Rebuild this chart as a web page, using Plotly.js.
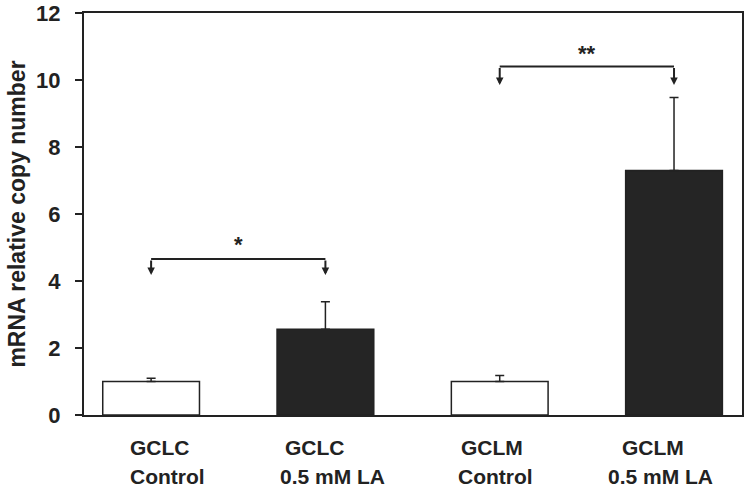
<!DOCTYPE html>
<html>
<head>
<meta charset="utf-8">
<script src="https://cdn.plot.ly/plotly-3.0.1.min.js"></script>
<style>html,body{margin:0;padding:0;background:#fff;}#chart{width:750px;height:494px;}</style>
</head>
<body>
<div id="chart"></div>
<script>
// Data
const categories = ['GCLC Control', 'GCLC 0.5 mM LA', 'GCLM Control', 'GCLM 0.5 mM LA'];
const labelTop = ['GCLC', 'GCLC', 'GCLM', 'GCLM'];
const labelBottom = ['Control', '0.5 mM LA', 'Control', '0.5 mM LA'];
const values = [1.0, 2.56, 1.0, 7.3];
const errorsUp = [0.10, 0.82, 0.18, 2.18];
const barColors = ['#ffffff', '#252525', '#ffffff', '#252525'];
const yTicks = [0, 2, 4, 6, 8, 10, 12];
// significance brackets: [leftIndex, rightIndex]
const bracketPairs = [[0, 1], [2, 3]];
const bracketY = [4.66, 10.4];
const bracketTipY = [4.18, 9.85];
const bracketStars = ['*', '**'];
const starY = [5.1, 10.8];

const ink = '#222222';
const fam = 'Arial, "Liberation Sans", sans-serif';
const xIdx = categories.map((_, i) => i);

const trace = {
  type: 'bar',
  x: xIdx,
  y: values,
  width: 0.555,
  marker: {color: barColors, line: {color: ink, width: 1.5}},
  error_y: {type: 'data', array: errorsUp, arrayminus: values.map(() => 0), symmetric: false,
            color: ink, thickness: 1.5, width: 4.5},
  hoverinfo: 'skip'
};

const annotations = [];
const shapes = [];
const topShift = [9, -10, -8, -21];
const botShift = [16, 7, -4, -14];
xIdx.forEach(i => {
  annotations.push({x: i, xref: 'x', y: 0, yref: 'y', yshift: -32, xshift: topShift[i], yanchor: 'middle',
    text: '<b>' + labelTop[i] + '</b>', showarrow: false, font: {family: fam, size: 21, color: ink}});
  annotations.push({x: i, xref: 'x', y: 0, yref: 'y', yshift: -61, xshift: botShift[i], yanchor: 'middle',
    text: '<b>' + labelBottom[i] + '</b>', showarrow: false, font: {family: fam, size: 21, color: ink}});
});
bracketPairs.forEach((p, k) => {
  shapes.push({type: 'line', xref: 'x', yref: 'y', x0: p[0], x1: p[1], y0: bracketY[k], y1: bracketY[k],
    line: {color: ink, width: 2}});
  p.forEach(xi => {
    annotations.push({x: xi, y: bracketTipY[k], xref: 'x', yref: 'y', ax: xi, ay: bracketY[k], axref: 'x', ayref: 'y',
      showarrow: true, arrowhead: 2, arrowsize: 0.75, arrowwidth: 2, arrowcolor: ink, text: ''});
  });
  annotations.push({x: (p[0] + p[1]) / 2, y: starY[k], xref: 'x', yref: 'y', text: '<b>' + bracketStars[k] + '</b>', showarrow: false,
    font: {family: fam, size: 22, color: ink}});
});

const layout = {
  width: 750, height: 494,
  margin: {l: 84, r: 8, t: 13, b: 79},
  paper_bgcolor: '#ffffff', plot_bgcolor: '#ffffff',
  showlegend: false,
  font: {family: fam, color: ink},
  xaxis: {range: [-0.385, 3.39], showticklabels: false, ticks: '', showgrid: false, zeroline: false,
          showline: true, mirror: true, linecolor: ink, linewidth: 2},
  yaxis: {range: [0, 12], tickvals: yTicks, ticktext: yTicks.map(v => '<b>' + v + '</b>'),
          ticks: 'outside', ticklen: 7, tickwidth: 1.5, tickcolor: ink, ticklabelstandoff: 10,
          showgrid: false, zeroline: false, showline: true, mirror: true, linecolor: ink, linewidth: 2,
          tickfont: {family: fam, size: 22, color: ink},
          title: {text: '<b>mRNA relative copy number</b>', font: {family: fam, size: 23, color: ink}, standoff: 4}},
  annotations: annotations,
  shapes: shapes
};

Plotly.newPlot('chart', [trace], layout, {displayModeBar: false, staticPlot: true});
</script>
</body>
</html>
